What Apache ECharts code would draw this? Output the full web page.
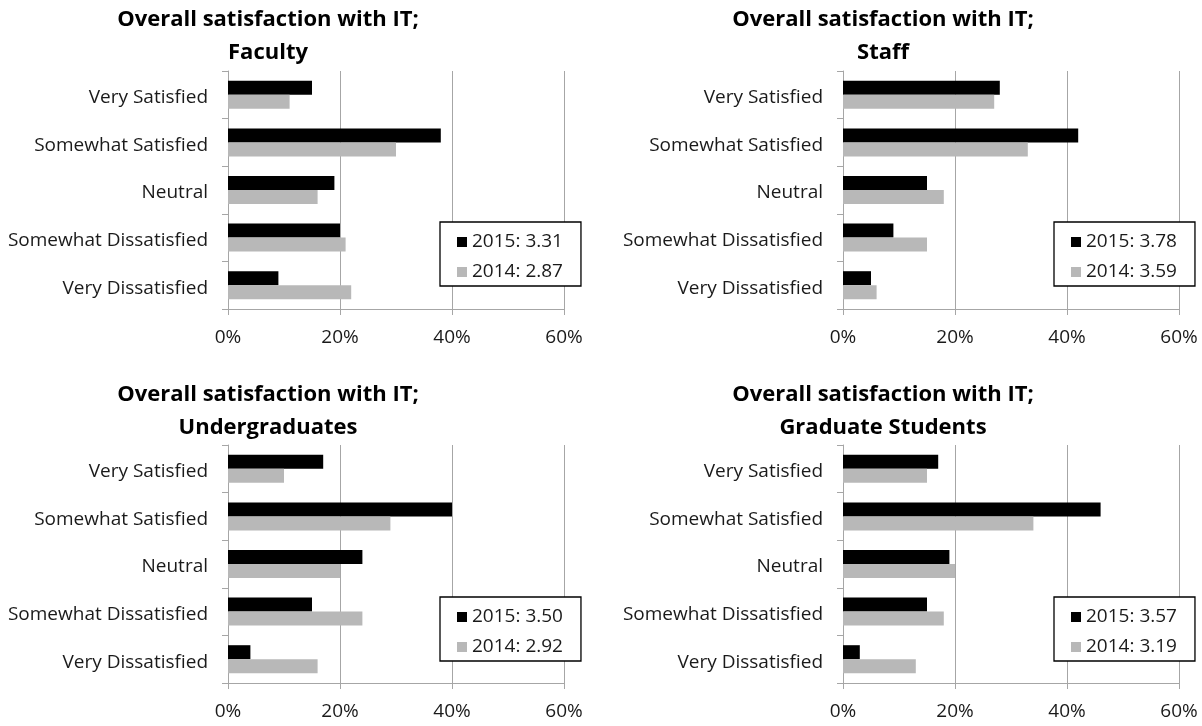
<!DOCTYPE html>
<html>
<head>
<meta charset="utf-8">
<script src="https://cdn.jsdelivr.net/npm/echarts@6/dist/echarts.min.js"></script>
<style>
html,body{margin:0;padding:0;background:#fff;}
#chart{width:1202px;height:726px;}
</style>
</head>
<body>
<div id="chart"></div>
<script>
// ---- data ----
var categories = ['Very Satisfied', 'Somewhat Satisfied', 'Neutral', 'Somewhat Dissatisfied', 'Very Dissatisfied'];
var xTicks = [0, 20, 40, 60];

var panelTitles = [
  'Overall satisfaction with IT;\nFaculty',
  'Overall satisfaction with IT;\nStaff',
  'Overall satisfaction with IT;\nUndergraduates',
  'Overall satisfaction with IT;\nGraduate Students'
];
var names2015 = ['2015: 3.31', '2015: 3.78', '2015: 3.50', '2015: 3.57'];
var names2014 = ['2014: 2.87', '2014: 3.59', '2014: 2.92', '2014: 3.19'];

var faculty2015 = [15, 38, 19, 20, 9];
var faculty2014 = [11, 30, 16, 21, 22];
var staff2015 = [28, 42, 15, 9, 5];
var staff2014 = [27, 33, 18, 15, 6];
var undergrad2015 = [17, 40, 24, 15, 4];
var undergrad2014 = [10, 29, 20, 24, 16];
var grad2015 = [17, 46, 19, 15, 3];
var grad2014 = [15, 34, 20, 18, 13];

var values2015 = [faculty2015, staff2015, undergrad2015, grad2015];
var values2014 = [faculty2014, staff2014, undergrad2014, grad2014];

// ---- layout / style ----
var FONT = 'Open Sans';
var C2015 = '#000000';
var C2014 = '#b8b8b8';
var GRIDC = '#a6a6a6';
var TEXTC = '#1a1a1a';
var panels = [
  {left: 228, top: 71, titleX: 268, titleY: 3, legX: 440, legY: 222},
  {left: 843, top: 71, titleX: 883, titleY: 3, legX: 1054, legY: 222},
  {left: 228, top: 445, titleX: 268, titleY: 378, legX: 440, legY: 597},
  {left: 843, top: 445, titleX: 883, titleY: 378, legX: 1054, legY: 597}
];

var option = {
  animation: false,
  backgroundColor: '#ffffff',
  title: [], grid: [], xAxis: [], yAxis: [], legend: [], series: []
};

panels.forEach(function (p, i) {
  option.title.push({
    text: panelTitles[i], left: p.titleX, top: p.titleY, textAlign: 'center', padding: 0,
    textStyle: {fontFamily: FONT, fontWeight: 'bold', fontSize: 22, lineHeight: 33, color: '#000'}
  });
  option.grid.push({left: p.left, top: p.top, width: 336, height: 238});
  option.xAxis.push({
    type: 'value', gridIndex: i, min: xTicks[0], max: xTicks[xTicks.length - 1], interval: 20,
    axisLine: {show: true, lineStyle: {color: GRIDC, width: 1}},
    axisTick: {show: true, length: 6, lineStyle: {color: GRIDC}},
    splitLine: {show: true, lineStyle: {color: GRIDC, width: 1}},
    axisLabel: {margin: 19, color: TEXTC, fontFamily: FONT, fontSize: 19, formatter: '{value}%'}
  });
  option.yAxis.push({
    type: 'category', gridIndex: i, data: categories, inverse: true,
    axisLine: {show: true, lineStyle: {color: GRIDC, width: 1}},
    axisTick: {show: true, length: 6, lineStyle: {color: GRIDC}},
    axisLabel: {
      margin: 20, formatter: '{a|{value}}',
      rich: {a: {color: TEXTC, fontFamily: FONT, fontSize: 19, padding: [6, 0, 0, 0]}}
    }
  });
  option.legend.push({
    orient: 'vertical', left: p.legX, top: p.legY,
    data: [names2015[i], names2014[i]],
    icon: 'rect', itemWidth: 10, itemHeight: 10, itemGap: 10,
    padding: [10, 18, 4, 17],
    borderColor: '#000', borderWidth: 1.3, backgroundColor: '#fff',
    textStyle: {fontFamily: FONT, fontSize: 19, lineHeight: 20, color: TEXTC}
  });
  option.series.push({
    type: 'bar', name: names2015[i], xAxisIndex: i, yAxisIndex: i,
    data: values2015[i], barWidth: 14, barGap: '0%',
    itemStyle: {color: C2015}
  });
  option.series.push({
    type: 'bar', name: names2014[i], xAxisIndex: i, yAxisIndex: i,
    data: values2014[i], barWidth: 14, barGap: '0%',
    itemStyle: {color: C2014}
  });
});

var chart = echarts.init(document.getElementById('chart'), null, {renderer: 'canvas'});
chart.setOption(option);
</script>
</body>
</html>
